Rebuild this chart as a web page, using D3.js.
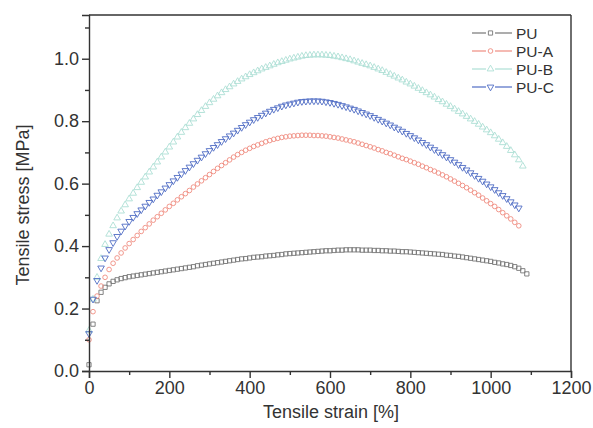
<!DOCTYPE html>
<html>
<head>
<meta charset="utf-8">
<script src="https://cdn.jsdelivr.net/npm/d3@7"></script>
<style>
    body { margin: 0; background: #fff; }
    text { font-family: "Liberation Sans", Arial, Helvetica, sans-serif; fill: #333; }
</style>
</head>
<body>
<div id="chart"></div>
<script>
// strain sampling (%), shared by all samples
const strain = [0, 10, 20, 30, 40, 50, 60, 70, 80, 90, 100, 110, 120, 130, 140, 150, 160, 170, 180, 190,
    200, 210, 220, 230, 240, 250, 260, 270, 280, 290, 300, 310, 320, 330, 340, 350, 360, 370, 380, 390,
    400, 410, 420, 430, 440, 450, 460, 470, 480, 490, 500, 510, 520, 530, 540, 550, 560, 570, 580, 590,
    600, 610, 620, 630, 640, 650, 660, 670, 680, 690, 700, 710, 720, 730, 740, 750, 760, 770, 780, 790,
    800, 810, 820, 830, 840, 850, 860, 870, 880, 890, 900, 910, 920, 930, 940, 950, 960, 970, 980, 990,
    1000, 1010, 1020, 1030, 1040, 1050, 1060, 1070, 1080, 1090]

const stressPU = [0.020, 0.150, 0.225, 0.252, 0.268, 0.279, 0.287, 0.292, 0.296, 0.299,
    0.302, 0.304, 0.306, 0.308, 0.310, 0.312, 0.314, 0.316, 0.318, 0.320,
    0.322, 0.324, 0.326, 0.328, 0.330, 0.332, 0.334, 0.337, 0.339, 0.341,
    0.343, 0.345, 0.347, 0.349, 0.351, 0.353, 0.355, 0.357, 0.359, 0.360,
    0.362, 0.364, 0.365, 0.366, 0.368, 0.369, 0.370, 0.372, 0.373, 0.375,
    0.376, 0.377, 0.378, 0.379, 0.380, 0.381, 0.382, 0.383, 0.384, 0.385,
    0.385, 0.386, 0.387, 0.387, 0.388, 0.388, 0.388, 0.388, 0.387, 0.387,
    0.387, 0.386, 0.386, 0.385, 0.385, 0.384, 0.384, 0.383, 0.382, 0.382,
    0.381, 0.380, 0.379, 0.378, 0.377, 0.376, 0.375, 0.374, 0.373, 0.371,
    0.370, 0.368, 0.367, 0.365, 0.363, 0.361, 0.359, 0.357, 0.355, 0.353,
    0.351, 0.348, 0.346, 0.343, 0.341, 0.338, 0.334, 0.329, 0.321, 0.311]

const stressPUA = [0.100, 0.190, 0.240, 0.272, 0.300, 0.325, 0.345, 0.362, 0.378, 0.394,
    0.408, 0.421, 0.434, 0.447, 0.459, 0.471, 0.483, 0.494, 0.505, 0.516,
    0.527, 0.537, 0.548, 0.558, 0.568, 0.578, 0.589, 0.599, 0.609, 0.619,
    0.629, 0.639, 0.649, 0.658, 0.667, 0.676, 0.685, 0.693, 0.700, 0.707,
    0.713, 0.719, 0.724, 0.729, 0.734, 0.738, 0.742, 0.745, 0.748, 0.750,
    0.752, 0.753, 0.754, 0.755, 0.755, 0.755, 0.754, 0.754, 0.753, 0.752,
    0.750, 0.748, 0.746, 0.743, 0.740, 0.737, 0.734, 0.730, 0.726, 0.722,
    0.718, 0.714, 0.709, 0.705, 0.700, 0.696, 0.691, 0.686, 0.681, 0.677,
    0.672, 0.667, 0.662, 0.656, 0.651, 0.645, 0.640, 0.634, 0.628, 0.622,
    0.615, 0.608, 0.601, 0.594, 0.587, 0.579, 0.571, 0.563, 0.554, 0.545,
    0.536, 0.527, 0.517, 0.507, 0.497, 0.487, 0.476, 0.465]

const stressPUB = [0.130, 0.230, 0.300, 0.360, 0.405, 0.438, 0.465, 0.490, 0.512, 0.532,
    0.551, 0.569, 0.587, 0.604, 0.621, 0.637, 0.653, 0.669, 0.685, 0.701,
    0.717, 0.733, 0.749, 0.764, 0.779, 0.793, 0.807, 0.821, 0.834, 0.847,
    0.859, 0.870, 0.881, 0.891, 0.901, 0.910, 0.919, 0.927, 0.935, 0.942,
    0.949, 0.955, 0.961, 0.967, 0.972, 0.977, 0.982, 0.987, 0.991, 0.995,
    0.999, 1.002, 1.005, 1.008, 1.010, 1.011, 1.012, 1.012, 1.012, 1.011,
    1.010, 1.008, 1.006, 1.003, 1.000, 0.997, 0.993, 0.989, 0.985, 0.981,
    0.977, 0.972, 0.967, 0.962, 0.956, 0.950, 0.944, 0.938, 0.932, 0.925,
    0.919, 0.912, 0.905, 0.898, 0.891, 0.884, 0.877, 0.869, 0.862, 0.854,
    0.847, 0.839, 0.831, 0.823, 0.815, 0.807, 0.799, 0.790, 0.781, 0.772,
    0.763, 0.753, 0.742, 0.731, 0.719, 0.706, 0.692, 0.676, 0.656]

const stressPUC = [0.120, 0.230, 0.290, 0.330, 0.362, 0.389, 0.411, 0.431, 0.448, 0.464,
    0.479, 0.492, 0.504, 0.516, 0.528, 0.540, 0.551, 0.563, 0.574, 0.586,
    0.597, 0.609, 0.620, 0.631, 0.642, 0.653, 0.664, 0.675, 0.685, 0.696,
    0.706, 0.716, 0.725, 0.735, 0.744, 0.753, 0.762, 0.771, 0.780, 0.789,
    0.797, 0.805, 0.812, 0.819, 0.826, 0.832, 0.838, 0.843, 0.848, 0.852,
    0.855, 0.858, 0.861, 0.863, 0.864, 0.865, 0.865, 0.865, 0.864, 0.862,
    0.860, 0.857, 0.854, 0.850, 0.846, 0.842, 0.838, 0.833, 0.828, 0.823,
    0.818, 0.812, 0.806, 0.800, 0.794, 0.788, 0.781, 0.775, 0.768, 0.761,
    0.754, 0.747, 0.740, 0.732, 0.725, 0.717, 0.709, 0.701, 0.693, 0.685,
    0.677, 0.669, 0.661, 0.652, 0.644, 0.635, 0.626, 0.617, 0.608, 0.599,
    0.590, 0.581, 0.571, 0.562, 0.552, 0.542, 0.532, 0.522]

const seriesNames = ["PU", "PU-A", "PU-B", "PU-C"]
const xTicks = [0, 200, 400, 600, 800, 1000, 1200]
const yTicks = [0.0, 0.2, 0.4, 0.6, 0.8, 1.0]

const width = 593
const height = 428
const margin = { left: 89, right: 22, top: 15, bottom: 57 }

const series = [
    { name: seriesNames[0], values: stressPU, color: "#767676", symbol: d3.symbolSquare, size: 18, rotate: 0 },
    { name: seriesNames[1], values: stressPUA, color: "#ef8c80", symbol: d3.symbolCircle, size: 17, rotate: 0 },
    { name: seriesNames[2], values: stressPUB, color: "#addfd5", symbol: d3.symbolTriangle, size: 19, rotate: 0 },
    { name: seriesNames[3], values: stressPUC, color: "#4f6cc4", symbol: d3.symbolTriangle, size: 19, rotate: 180 }
]

const svg = d3.select("#chart")
    .append("svg")
    .attr("width", width)
    .attr("height", height)

const x = d3.scaleLinear().domain([0, 1200]).range([margin.left, width - margin.right])
const y = d3.scaleLinear().domain([0, 1.14]).range([height - margin.bottom, margin.top])

// markers
series.forEach(s => {
    const sym = d3.symbol().type(s.symbol).size(s.size)
    svg.append("g")
        .selectAll("path")
        .data(s.values)
        .join("path")
        .attr("d", sym)
        .attr("transform", (d, i) => "translate(" + x(strain[i]) + "," + y(d) + ") rotate(" + s.rotate + ")")
        .attr("fill", "none")
        .attr("stroke", s.color)
        .attr("stroke-width", 0.9)
})

// axes
svg.append("g")
    .attr("transform", "translate(0," + y(0) + ")")
    .call(d3.axisBottom(x).tickValues(xTicks).tickSize(7).tickPadding(3).tickFormat(d3.format("d")))
svg.append("g")
    .attr("transform", "translate(0," + y(0) + ")")
    .call(d3.axisBottom(x).tickValues(d3.range(100, 1200, 200)).tickSize(4).tickFormat(""))
    .call(g => g.select(".domain").remove())

svg.append("g")
    .attr("transform", "translate(" + x(0) + ",0)")
    .call(d3.axisLeft(y).tickValues(yTicks).tickSize(7).tickPadding(3).tickFormat(d3.format(".1f")))
svg.append("g")
    .attr("transform", "translate(" + x(0) + ",0)")
    .call(d3.axisLeft(y).tickValues([0.1, 0.3, 0.5, 0.7, 0.9, 1.1]).tickSize(4).tickFormat(""))
    .call(g => g.select(".domain").remove())

svg.selectAll(".tick text")
    .style("font-size", "18px")
    .attr("fill", "#333")
svg.selectAll(".domain, .tick line")
    .attr("stroke", "#333")
    .attr("stroke-width", 1.4)

// frame top and right
svg.append("line")
    .attr("x1", x(0)).attr("x2", x(1200))
    .attr("y1", y(1.14)).attr("y2", y(1.14))
    .attr("stroke", "#333").attr("stroke-width", 1.4)
svg.append("line")
    .attr("x1", x(1200)).attr("x2", x(1200))
    .attr("y1", y(1.14)).attr("y2", y(0))
    .attr("stroke", "#333").attr("stroke-width", 1.4)

// axis titles
svg.append("text")
    .text("Tensile strain [%]")
    .attr("x", 331)
    .attr("y", 418)
    .attr("text-anchor", "middle")
    .style("font-size", "18px")
svg.append("text")
    .text("Tensile stress [MPa]")
    .attr("transform", "translate(29,205) rotate(-90)")
    .attr("text-anchor", "middle")
    .style("font-size", "18px")

// legend
const legend = svg.append("g")
series.forEach((s, i) => {
    const ly = 33 + i * 18
    legend.append("line")
        .attr("x1", 472).attr("x2", 486).attr("y1", ly).attr("y2", ly)
        .attr("stroke", s.color).attr("stroke-width", 1.2)
    legend.append("line")
        .attr("x1", 495).attr("x2", 512).attr("y1", ly).attr("y2", ly)
        .attr("stroke", s.color).attr("stroke-width", 1.2)
    legend.append("path")
        .attr("d", d3.symbol().type(s.symbol).size(s.size))
        .attr("transform", "translate(490.5," + ly + ") rotate(" + s.rotate + ")")
        .attr("fill", "none")
        .attr("stroke", s.color)
        .attr("stroke-width", 0.9)
    legend.append("text")
        .text(s.name)
        .attr("x", 516)
        .attr("y", ly + 6)
        .style("font-size", "15.5px")
})
</script>
</body>
</html>
